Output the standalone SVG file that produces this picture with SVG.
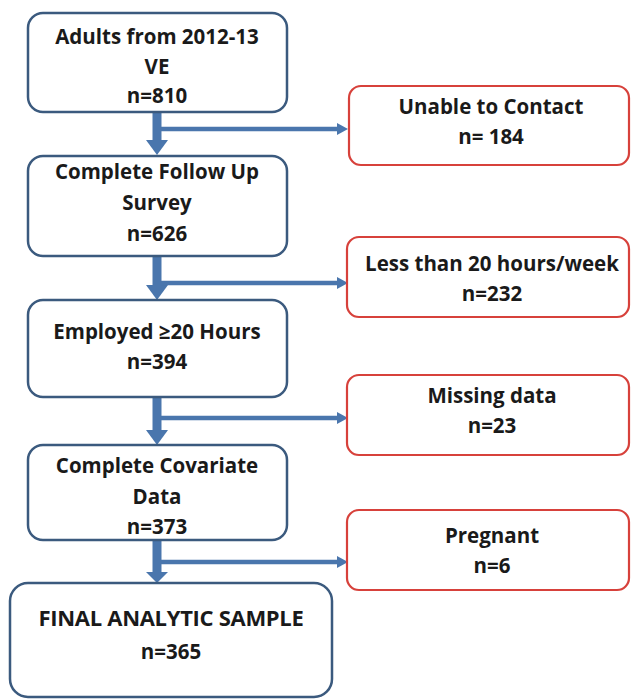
<svg xmlns="http://www.w3.org/2000/svg" width="631" height="700" viewBox="0 0 631 700">
<style>
.main{fill:#fff;stroke:#3b5a7e;stroke-width:2.5}
.side{fill:#fff;stroke:#d7413b;stroke-width:2.2}
text{font-family:"Open Sans","Liberation Sans",sans-serif;font-weight:bold;font-size:20.5px;fill:#1a1a1a;text-anchor:middle}
.conn{stroke:#4a76ad;fill:none}
.head{fill:#4a76ad}
</style>
<g id="connectors">
<path class="conn" stroke-width="9" d="M157,113 V140"/>
<path class="head" d="M146,140 H168 L157,155 z"/>
<path class="conn" stroke-width="4.5" d="M161,129 H338"/>
<path class="head" d="M337,123 L348,129 L337,135 z"/>

<path class="conn" stroke-width="9" d="M157,257 V285"/>
<path class="head" d="M146,285 H168 L157,300 z"/>
<path class="conn" stroke-width="4.5" d="M161,283 H338"/>
<path class="head" d="M337,277 L348,283 L337,289 z"/>

<path class="conn" stroke-width="9" d="M157,398 V430"/>
<path class="head" d="M146,430 H168 L157,445 z"/>
<path class="conn" stroke-width="4.5" d="M161,418 H338"/>
<path class="head" d="M337,412 L348,418 L337,424 z"/>

<path class="conn" stroke-width="9" d="M157,541 V572"/>
<path class="head" d="M146,572 H168 L157,583 z"/>
<path class="conn" stroke-width="4.5" d="M161,562 H338"/>
<path class="head" d="M337,556 L348,562 L337,568 z"/>
</g>
<g id="n1"><rect class="main" x="28" y="13" width="259" height="99" rx="15"/>
<text x="157" y="44">Adults from 2012-13</text><text x="157" y="74">VE</text><text x="157" y="103">n=810</text></g>
<g id="n2"><rect class="main" x="28" y="156" width="259" height="100" rx="15"/>
<text x="157" y="179">Complete Follow Up</text><text x="157" y="210">Survey</text><text x="157" y="241">n=626</text></g>
<g id="n3"><rect class="main" x="28" y="300" width="259" height="97" rx="15"/>
<text x="157" y="339">Employed ≥20 Hours</text><text x="157" y="369">n=394</text></g>
<g id="n4"><rect class="main" x="28" y="445" width="259" height="95" rx="15"/>
<text x="157" y="473">Complete Covariate</text><text x="157" y="504">Data</text><text x="157" y="534">n=373</text></g>
<g id="n5"><rect class="main" x="10" y="583" width="322" height="114" rx="18"/>
<text x="171" y="626" style="font-size:22px;letter-spacing:-0.3px">FINAL ANALYTIC SAMPLE</text><text x="171" y="659">n=365</text></g>
<g id="r1"><rect class="side" x="349" y="86" width="280" height="79" rx="12"/>
<text x="491" y="114">Unable to Contact</text><text x="491" y="144">n= 184</text></g>
<g id="r2"><rect class="side" x="347" y="237" width="282" height="80" rx="12"/>
<text x="492" y="271">Less than 20 hours/week</text><text x="492" y="301">n=232</text></g>
<g id="r3"><rect class="side" x="347" y="375" width="282" height="80" rx="12"/>
<text x="492" y="403">Missing data</text><text x="492" y="433">n=23</text></g>
<g id="r4"><rect class="side" x="347" y="510" width="282" height="80" rx="12"/>
<text x="492" y="543">Pregnant</text><text x="492" y="573">n=6</text></g>
</svg>
